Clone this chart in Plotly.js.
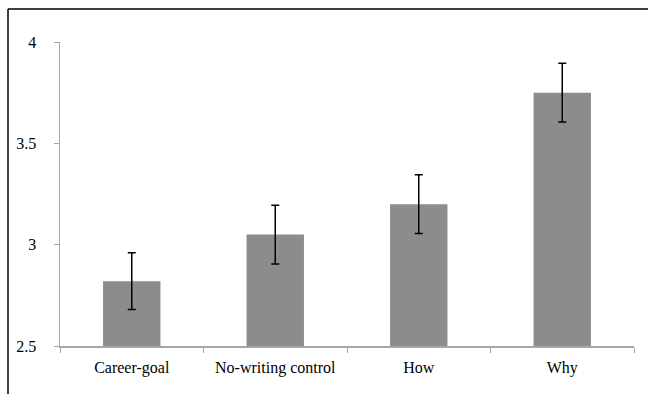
<!DOCTYPE html>
<html><head><meta charset="utf-8">
<script src="https://cdn.plot.ly/plotly-3.0.1.min.js"></script>
<style>html,body{margin:0;padding:0;background:#fff}#chart{width:648px;height:394px}</style>
</head><body><div id="chart"></div>
<script>
const categories = ["Career-goal", "No-writing control", "How", "Why"];
const means = [2.82, 3.05, 3.20, 3.75];
const errors = [0.14, 0.145, 0.145, 0.145];
const yTicks = [2.5, 3, 3.5, 4];
const yTickLabels = ["2.5", "3", "3.5", "4"];

const L = 60, R = 14, T = 42, B = 48, W = 648, H = 394;
const pw = W - L - R, ph = H - T - B;
const px2x = p => (p - L) / pw;
const py2y = p => (H - B - p) / ph;
const FONT = { family: "Liberation Serif", size: 16, color: "#000" };

const trace = {
  type: "bar", x: categories, y: means,
  marker: { color: "#8c8c8f" },
  error_y: { type: "data", array: errors, visible: true, color: "#000", thickness: 1.5, width: 4 },
  hoverinfo: "none"
};
const layout = {
  width: W, height: H,
  margin: { l: L, r: R, t: T, b: B },
  paper_bgcolor: "#fff", plot_bgcolor: "#fff",
  font: FONT,
  bargap: 0.6, showlegend: false,
  xaxis: {
    showgrid: false, showline: true, linecolor: "#a6a6a6", linewidth: 1.5,
    ticks: "outside", tickson: "boundaries", ticklen: 5, tickcolor: "#a6a6a6",
    ticklabelstandoff: 6, zeroline: false, tickfont: FONT
  },
  yaxis: {
    range: [2.5, 4], tickvals: yTicks, ticktext: yTickLabels,
    showgrid: false, showline: true, linecolor: "#a6a6a6", linewidth: 1.5,
    ticks: "outside", ticklen: 5, tickcolor: "#a6a6a6", ticklabelstandoff: 14, zeroline: false, tickfont: FONT
  },
  shapes: [
    { type: "line", xref: "paper", yref: "paper", x0: px2x(8), x1: px2x(650), y0: py2y(9), y1: py2y(9), line: { color: "#000", width: 1.5 } },
    { type: "line", xref: "paper", yref: "paper", x0: px2x(8), x1: px2x(8), y0: py2y(9), y1: py2y(396), line: { color: "#000", width: 1.5 } }
  ]
};
Plotly.newPlot("chart", [trace], layout, { displayModeBar: false, staticPlot: true });
</script></body></html>
